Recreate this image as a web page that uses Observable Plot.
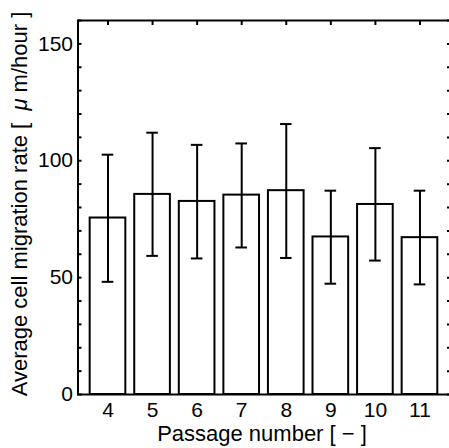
<!DOCTYPE html>
<html>
<head>
<meta charset="utf-8">
<script src="https://cdn.jsdelivr.net/npm/d3@7"></script>
<script src="https://cdn.jsdelivr.net/npm/@observablehq/plot@0.6"></script>
<style>
  html, body { margin: 0; padding: 0; background: #fff; }
  #chart svg { display: block; }
</style>
</head>
<body>
<div id="chart"></div>
<script>
const passages = [4, 5, 6, 7, 8, 9, 10, 11];
const means    = [75.5, 85.6, 82.6, 85.3, 87.2, 67.4, 81.3, 67.1];
const errHigh  = [102.6, 112.0, 106.8, 107.4, 115.7, 87.2, 105.4, 87.2];
const errLow   = [48.2, 59.3, 58.2, 62.9, 58.4, 47.4, 57.3, 47.1];
const yLabelTicks = [0, 50, 100, 150];
const yMinorTicks = d3.range(0, 161, 10);
const xLabel = "Passage number [ − ]";
const yLabelParts = ["Average cell migration rate [  ", "μ", " m/hour ]"];

const data = passages.map((p, i) => ({p, mean: means[i], hi: errHigh[i], lo: errLow[i]}));

const font = "'Liberation Sans', Arial, sans-serif";
const fsTick = 21;
const fsLabel = 22;

const chart = Plot.plot({
  width: 449,
  height: 448,
  marginLeft: 77.5,
  marginRight: -1,
  marginTop: 20,
  marginBottom: 54,
  style: {fontFamily: font, fontSize: fsTick + "px", color: "black", background: "white"},
  x: {type: "linear", domain: [4 - 0.673, 11 + 0.685]},
  y: {domain: [0, 160]},
  marks: [
    Plot.rect(data, {x1: d => d.p - 0.4, x2: d => d.p + 0.4, y1: 0, y2: "mean", fill: "white", stroke: "black", strokeWidth: 2}),
    Plot.ruleX(data, {x: "p", y1: "lo", y2: "hi", stroke: "black", strokeWidth: 2}),
    Plot.ruleY(data, {y: "hi", x1: d => d.p - 0.13, x2: d => d.p + 0.13, stroke: "black", strokeWidth: 2}),
    Plot.ruleY(data, {y: "lo", x1: d => d.p - 0.13, x2: d => d.p + 0.13, stroke: "black", strokeWidth: 2}),
    Plot.axisY({anchor: "left", ticks: yMinorTicks, tickSize: 4, dx: 4, text: null, label: null, strokeWidth: 2}),
    Plot.axisY({anchor: "left", ticks: yLabelTicks, tickSize: 0, tickPadding: 5, label: null, fontSize: fsTick}),
    Plot.axisY({anchor: "right", ticks: yMinorTicks, tickSize: 4, dx: -4, text: null, label: null, strokeWidth: 2}),
    Plot.axisX({anchor: "top", ticks: passages, tickSize: 4, dy: 4, text: null, label: null, strokeWidth: 2}),
    Plot.axisX({anchor: "bottom", ticks: passages, tickSize: 0, tickPadding: 8, label: null, fontSize: fsTick, tickFormat: d => String(d)}),
    Plot.frame({stroke: "black", strokeWidth: 2})
  ]
});

document.getElementById("chart").appendChild(chart);

const svg = d3.select(chart);
svg.append("text")
  .attr("x", 262)
  .attr("y", 441)
  .attr("text-anchor", "middle")
  .attr("font-family", font)
  .attr("font-size", fsLabel + "px")
  .attr("fill", "black")
  .text(xLabel);

const yl = svg.append("text")
  .attr("transform", "translate(27,204) rotate(-90)")
  .attr("text-anchor", "middle")
  .attr("font-family", font)
  .attr("font-size", fsLabel + "px")
  .attr("fill", "black")
  .attr("xml:space", "preserve")
  .style("white-space", "pre");
yl.append("tspan").text(yLabelParts[0]);
yl.append("tspan").attr("font-style", "italic").text(yLabelParts[1]);
yl.append("tspan").text(yLabelParts[2]);
</script>
</body>
</html>
